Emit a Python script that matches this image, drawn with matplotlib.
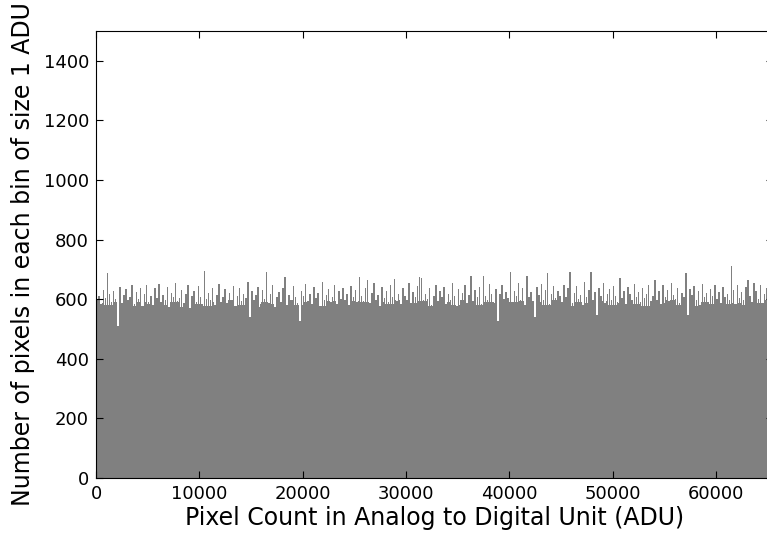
import numpy as np
import matplotlib
matplotlib.use("Agg")
import matplotlib.pyplot as plt

# histogram of pixel values in 200 ADU groups
bin_width = 200
counts = [
	596, 612, 583, 631, 604, 688, 619, 590,
	627, 601, 510, 642, 588, 615, 634, 597,
	609, 648, 585, 623, 601, 639, 578, 617,
	646, 592, 611, 580, 637, 605, 652, 589,
	614, 598, 641, 575, 620, 607, 655, 593,
	603, 632, 586, 618, 649, 571, 612, 628,
	590, 644, 607, 583, 695, 602, 621, 596,
	638, 579, 615, 651, 592, 608, 633, 587,
	622, 599, 645, 576, 611, 637, 594, 619,
	604, 658, 541, 626, 597, 613, 642, 585,
	631, 600, 691, 588, 617, 646, 573, 609,
	625, 592, 638, 674, 581, 614, 599, 643,
	606, 587, 528, 629, 612, 650, 594, 618,
	583, 640, 603, 621, 577, 657, 599, 614,
	635, 590, 609, 647, 584, 626, 602, 639,
	597, 616, 581, 643, 608, 631, 589, 676,
	610, 594, 636, 665, 587, 620, 653, 598,
	615, 578, 641, 603, 629, 591, 648, 606,
	668, 593, 617, 584, 639, 611, 598, 654,
	588, 624, 607, 645, 675, 672, 596, 619,
	602, 637, 580, 612, 649, 593, 628, 607,
	640, 585, 619, 598, 656, 610, 576, 633,
	599, 621, 646, 588, 614, 678, 595, 630,
	608, 642, 583, 678, 611, 597, 650, 619,
	591, 634, 528, 616, 647, 600, 623, 605,
	692, 589, 628, 612, 655, 596, 639, 581,
	678, 608, 623, 594, 540, 641, 613, 652,
	597, 631, 688, 585, 618, 644, 603, 627,
	611, 592, 649, 606, 636, 691, 588, 620,
	643, 601, 615, 582, 657, 609, 630, 691,
	596, 624, 548, 639, 610, 653, 587, 617,
	634, 599, 645, 612, 590, 671, 605, 628,
	583, 641, 617, 596, 650, 608, 624, 589,
	637, 603, 619, 646, 594, 612, 665, 598,
	626, 584, 648, 607, 631, 593, 655, 614,
	600, 639, 586, 622, 609, 688, 548, 633,
	615, 644, 597, 628, 580, 651, 606, 620,
	592, 635, 611, 647, 601, 624, 587, 642,
	609, 618, 596, 711, 630, 585, 649, 604,
	623, 597, 640, 665, 612, 591, 655, 629,
	602, 646, 588, 617, 636, 594, 651, 610,
]
# level of the solid grey body, one value per 4 groups
floor_level = [
	588, 579, 592, 583, 576, 590, 585, 597, 581, 589, 574,
	593, 584, 578, 591, 586, 596, 580, 588, 575, 592, 583,
	587, 598, 579, 590, 584, 577, 594, 586, 581, 595, 589,
	576, 591, 583, 597, 580, 588, 593, 578, 586, 590, 582,
	596, 584, 579, 592, 587, 575, 589, 594, 583, 590, 580,
	597, 585, 578, 591, 588, 582, 595, 579, 587, 593, 584,
	576, 590, 586, 598, 581, 589, 577, 592, 585, 594, 583,
	588, 580, 591, 586, 596,
]

x_ticks = [0, 10000, 20000, 30000, 40000, 50000, 60000]
y_ticks = [0, 200, 400, 600, 800, 1000, 1200, 1400]

counts = np.array(counts)
edges = np.arange(len(counts)) * bin_width
floor = np.minimum(counts, np.repeat(floor_level, 4))

fig = plt.figure(figsize=(7.67, 5.33), dpi=100)
ax = fig.add_axes([0.1252, 0.1032, 0.8827, 0.8386])

# solid body and the thin spikes above it
ax.bar(edges, floor, width=bin_width, align="edge", color="#808080", linewidth=0)
ax.bar(edges + bin_width * 0.15, counts, width=bin_width * 0.7, align="edge",
	color="#808080", linewidth=0)

ax.set_xlim(0, 65536)
ax.set_ylim(0, 1500)
ax.set_xticks(x_ticks)
ax.set_yticks(y_ticks)
ax.tick_params(direction="in", top=True, right=True, length=5, labelsize=13, pad=5)

ax.set_xlabel("Pixel Count in Analog to Digital Unit (ADU)", fontsize=17, labelpad=2)
ax.set_ylabel("Number of pixels in each bin of size 1 ADU", fontsize=17)
ax.yaxis.set_label_coords(-0.09, 0.5)

fig.savefig("out.png", dpi=100)
